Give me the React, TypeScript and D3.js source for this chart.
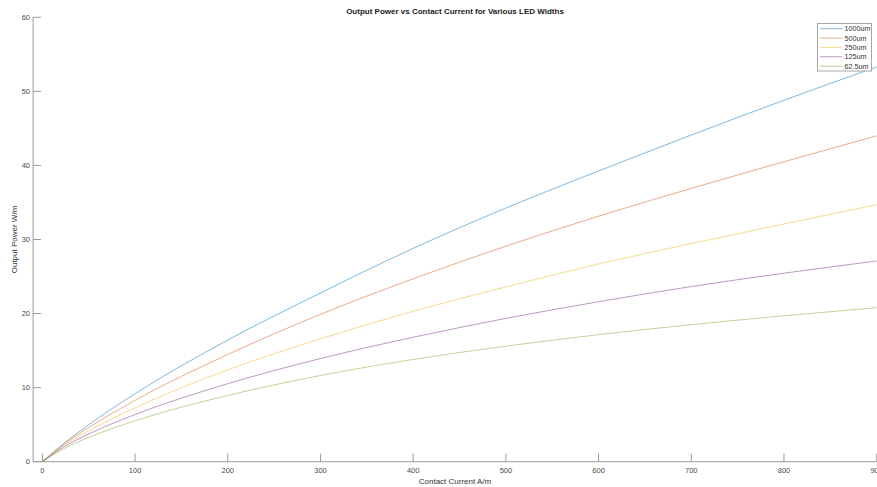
import React, { useEffect, useRef } from 'react';
import * as d3 from 'd3';

// contact current A/m (x) and output power W/m per LED width
const currents = [0, 25, 50, 100, 200, 300, 400, 500, 600, 700, 800, 900];
const p1000 = [0, 2.64, 4.99, 9.18, 16.43, 22.78, 28.8, 34.25, 39.25, 44.1, 48.8, 53.3];
const p500 = [0, 2.51, 4.62, 8.29, 14.47, 19.9, 24.7, 29.1, 33.15, 36.9, 40.5, 44.0];
const p250 = [0, 2.34, 4.16, 7.27, 12.4, 16.59, 20.3, 23.6, 26.7, 29.45, 32.1, 34.7];
const p125 = [0, 2.13, 3.74, 6.37, 10.53, 13.93, 16.8, 19.35, 21.6, 23.65, 25.45, 27.1];
const p62 = [0, 1.88, 3.28, 5.52, 8.94, 11.64, 13.8, 15.6, 17.15, 18.5, 19.7, 20.8];

const seriesNames = ['1000um', '500um', '250um', '125um', '62.5um'];
const seriesValues = [p1000, p500, p250, p125, p62];
const colors = ['#0072BD', '#D95319', '#EDB120', '#7E2F8E', '#77AC30'];

const xTicks = [0, 100, 200, 300, 400, 500, 600, 700, 800, 900];
const yTicks = [0, 10, 20, 30, 40, 50, 60];

export default function App() {
  const ref = useRef<SVGSVGElement>(null);

  useEffect(() => {
    const svg = d3.select(ref.current);
    svg.selectAll('*').remove();
    const font = 'Liberation Sans, Arial, sans-serif';
    const axisColor = '#9a9a9a';
    const textColor = '#4a4a4a';

    const x = d3.scaleLinear().domain([-10, 900]).range([33.1, 876.7]);
    const y = d3.scaleLinear().domain([0, 60]).range([461.7, 17.3]);

    // title
    svg.append('text')
      .attr('x', 455).attr('y', 14)
      .attr('text-anchor', 'middle')
      .attr('font-family', font).attr('font-size', 8).attr('font-weight', 'bold')
      .attr('fill', '#222')
      .text('Output Power vs Contact Current for Various LED Widths');

    // lines
    const line = d3.line<number>()
      .x((_, i) => x(currents[i]))
      .y((d) => y(d))
      .curve(d3.curveMonotoneX);

    seriesValues.forEach((vals, k) => {
      svg.append('path')
        .attr('d', line(vals))
        .attr('fill', 'none')
        .attr('stroke', colors[k])
        .attr('stroke-opacity', 0.5)
        .attr('stroke-width', 1);
    });

    // y axis
    const ya = svg.append('g');
    ya.append('line')
      .attr('x1', x(-10)).attr('x2', x(-10))
      .attr('y1', y(0)).attr('y2', y(60))
      .attr('stroke', axisColor);
    yTicks.forEach((t) => {
      ya.append('line')
        .attr('x1', x(-10)).attr('x2', x(-10) + 8)
        .attr('y1', y(t)).attr('y2', y(t))
        .attr('stroke', axisColor);
      ya.append('text')
        .attr('x', 30).attr('y', y(t) + 2.7)
        .attr('text-anchor', 'end')
        .attr('font-family', font).attr('font-size', 7.5)
        .attr('fill', textColor)
        .text(t);
    });

    // x axis
    const xa = svg.append('g');
    xa.append('line')
      .attr('x1', x(-10)).attr('x2', x(900))
      .attr('y1', y(0)).attr('y2', y(0))
      .attr('stroke', axisColor);
    xTicks.forEach((t) => {
      xa.append('line')
        .attr('x1', x(t)).attr('x2', x(t))
        .attr('y1', y(0)).attr('y2', y(0) - 8)
        .attr('stroke', axisColor);
      xa.append('text')
        .attr('x', x(t)).attr('y', 472.5)
        .attr('text-anchor', 'middle')
        .attr('font-family', font).attr('font-size', 7.5)
        .attr('fill', textColor)
        .text(t);
    });

    // axis labels
    svg.append('text')
      .attr('x', 455).attr('y', 484)
      .attr('text-anchor', 'middle')
      .attr('font-family', font).attr('font-size', 8)
      .attr('fill', '#333')
      .text('Contact Current A/m');
    svg.append('text')
      .attr('transform', 'translate(17, 239.5) rotate(-90)')
      .attr('text-anchor', 'middle')
      .attr('font-family', font).attr('font-size', 8)
      .attr('fill', '#333')
      .text('Output Power W/m');

    // legend
    const lg = svg.append('g');
    lg.append('rect')
      .attr('x', 817.5).attr('y', 23.5)
      .attr('width', 54).attr('height', 47.5)
      .attr('fill', '#fff').attr('stroke', '#a8a8a8');
    seriesNames.forEach((name, k) => {
      const ly = 28.7 + k * 9.35;
      lg.append('line')
        .attr('x1', 820).attr('x2', 842.3)
        .attr('y1', ly).attr('y2', ly)
        .attr('stroke', colors[k]).attr('stroke-opacity', 0.5);
      lg.append('text')
        .attr('x', 844.5).attr('y', ly + 2.6)
        .attr('font-family', font).attr('font-size', 7.2)
        .attr('fill', '#333')
        .text(name);
    });
  }, []);

  return (
    <div>
      <svg ref={ref} width={877} height={487}
        style={{ position: 'absolute', left: 0, top: 0, background: '#fff' }} />
    </div>
  );
}
